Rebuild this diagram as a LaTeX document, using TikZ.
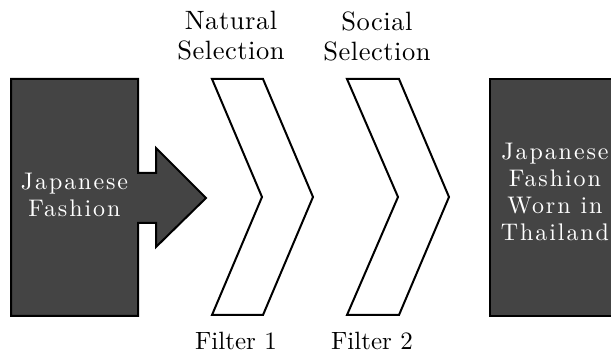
\documentclass[tikz,border=0pt]{standalone}
\usepackage{fontspec}
\newfontfamily\boxfont{lmroman10-regular.otf}[LetterSpace=8]
\newfontfamily\labelfont{lmroman10-regular.otf}[LetterSpace=2]
\newfontfamily\filterfont{lmroman10-regular.otf}
\definecolor{boxfill}{RGB}{68,68,68}
\tikzset{
  darkshape/.style={draw=black, line width=2pt, fill=boxfill, line join=miter},
  filtershape/.style={draw=black, line width=2pt, fill=white, line join=miter},
  boxtext/.style={text=white, align=center, inner sep=0pt,
    font=\boxfont\fontsize{24}{27}\selectfont},
  toplabel/.style={align=center, inner sep=0pt,
    font=\labelfont\fontsize{26.5}{30}\selectfont},
  filterlabel/.style={anchor=base, inner sep=0pt,
    font=\filterfont\fontsize{25}{30}\selectfont}
}
\begin{document}
\begin{tikzpicture}[x=1pt, y=-1pt]
  \useasboundingbox (0,0) rectangle (611,355);
  \clip (0,0) rectangle (611,355);

  % source block with its outgoing arrow, as one outline
  \draw[darkshape] (11,79) -- (138,79) -- (138,173) -- (156,173) -- (156,148)
    -- (206,198) -- (156,247) -- (156,223) -- (138,223) -- (138,316)
    -- (11,316) -- cycle;
  \node[boxtext] (src) at (74.5,195) {Japanese\\Fashion};

  % the two filters
  \draw[filtershape] (212,79) -- (263,79) -- (313,197) -- (263,315)
    -- (212,315) -- (262,197) -- cycle;
  \draw[filtershape] (347,79) -- (399,79) -- (449,197) -- (399,315)
    -- (347,315) -- (398,197) -- cycle;

  % result block
  \draw[darkshape] (490,79) rectangle (620,316);
  \node[boxtext] (dst) at (555,192) {Japanese\\Fashion\\Worn in\\Thailand};

  % labels
  \node[toplabel] (natsel) at (231,36) {Natural\\Selection};
  \node[toplabel] (socsel) at (377,36) {Social\\Selection};
  \node[filterlabel] (f1) at (236,350) {Filter 1};
  \node[filterlabel] (f2) at (372,350) {Filter 2};
\end{tikzpicture}
\end{document}
